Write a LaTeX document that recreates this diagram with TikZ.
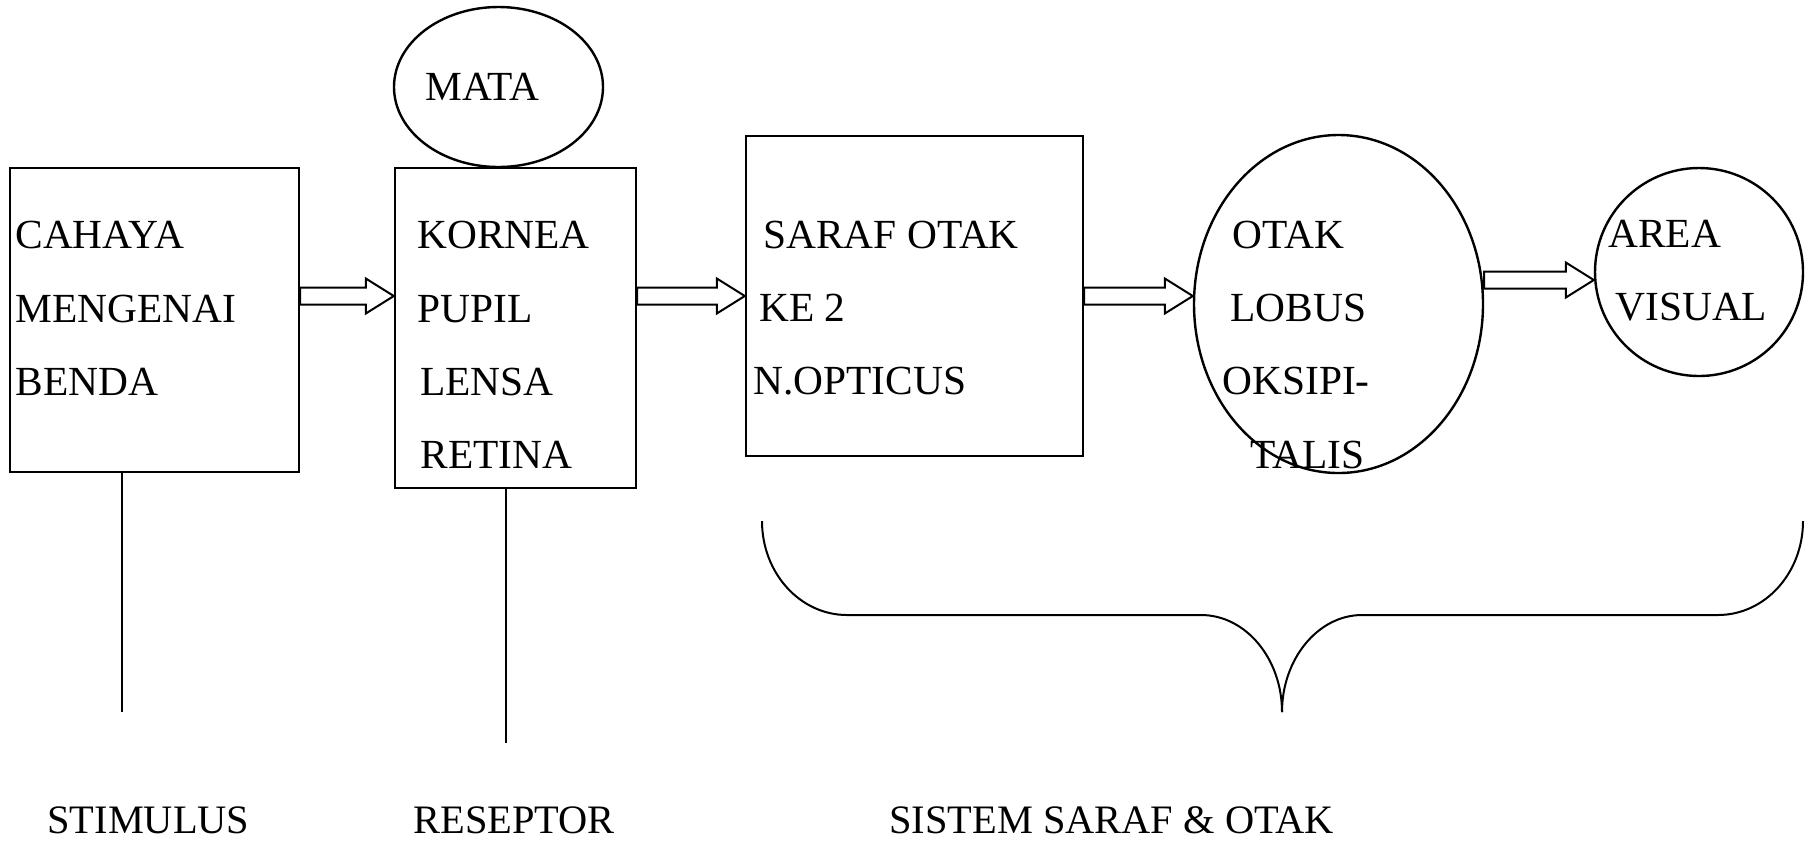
\documentclass[tikz,border=0pt]{standalone}
\usepackage{fontspec}
\setmainfont{Liberation Serif}
\usepackage{tikz}
\usetikzlibrary{calc,shapes.geometric}

\tikzset{
  box/.style={draw, line width=1.2pt, rectangle, inner sep=0pt},
  oval/.style={draw, line width=1.2pt, ellipse, inner sep=0pt},
  lbl/.style={anchor=base west, inner sep=0pt, font=\fontsize{20.7}{25}\selectfont},
  grouplbl/.style={lbl, text depth=0pt, font=\fontsize{20.2}{24}\selectfont},
  hollow/.style={draw, line width=1pt, fill=white, line join=miter},
  bracket/.style={line width=1pt},
}

% hollow block arrow from #1 to #2 at height #3
\newcommand{\fatarrow}[3]{%
  \draw[hollow] let \p1=(#1), \p2=(#2), \p3=(0,#3) in
    (\x1,\y3+4.25pt) -- (\x2-14pt,\y3+4.25pt) -- (\x2-14pt,\y3+8.75pt) -- (\x2,\y3)
    -- (\x2-14pt,\y3-8.75pt) -- (\x2-14pt,\y3-4.25pt) -- (\x1,\y3-4.25pt) -- cycle;
}

\begin{document}
\begin{tikzpicture}[x=0.5pt, y=-0.5pt]
  \useasboundingbox (0,0) rectangle (1814,843);
  % blocks
  \node[box, minimum width=144.5pt, minimum height=152pt] (cahaya) at (154.5,320) {};
  \node[oval, minimum width=104.5pt, minimum height=80pt] (mata) at (498.5,87) {};
  \node[box, minimum width=120.5pt, minimum height=160pt] (reseptor) at (515.5,328) {};
  \node[box, minimum width=168.5pt, minimum height=160pt] (saraf) at (914.5,296) {};
  \node[oval, minimum width=144.5pt, minimum height=169pt] (otak) at (1338.5,304) {};
  \node[oval, minimum width=104pt, minimum height=104pt] (area) at (1699,272) {};
  % texts inside
  \foreach \txt/\x/\y [count=\i] in {CAHAYA/15/248, MENGENAI/15/322, BENDA/15/395}
    \node[lbl] (cahaya-\i) at (\x,\y) {\txt};
  \node[lbl] (mata-1) at (425,100) {MATA};
  \foreach \txt/\x/\y [count=\i] in {KORNEA/417/248, PUPIL/417/322, LENSA/420/395, RETINA/420/468}
    \node[lbl] (reseptor-\i) at (\x,\y) {\txt};
  \foreach \txt/\x/\y [count=\i] in {SARAF OTAK/763/248, KE 2/759/321, N.OPTICUS/753/394}
    \node[lbl] (saraf-\i) at (\x,\y) {\txt};
  \foreach \txt/\x/\y [count=\i] in {OTAK/1232/248, LOBUS/1230/321, OKSIPI-/1222/394, TALIS/1250/468}
    \node[lbl] (otak-\i) at (\x,\y) {\txt};
  \foreach \txt/\x/\y [count=\i] in {AREA/1608/247, VISUAL/1615/320}
    \node[lbl] (area-\i) at (\x,\y) {\txt};
  % arrows
  \fatarrow{cahaya.east}{reseptor.west}{296}
  \fatarrow{reseptor.east}{saraf.west}{296}
  \fatarrow{saraf.east}{otak.west}{296}
  \fatarrow{otak.east}{area.west}{280}
  % leaders to the group names
  \coordinate (stimend) at (121.5,712);
  \coordinate (resend) at (505.6,743);
  \draw[line width=1pt] (cahaya.south -| stimend) -- (stimend);
  \draw[line width=1pt] (reseptor.south -| resend) -- (resend);
  % brace under nerve and brain
  \draw[bracket] (762,521) .. controls (762,573) and (800,615) .. (847,615) -- (1201,615)
    .. controls (1246,615) and (1282,659) .. (1282,712);
  \draw[bracket] (1803,521) .. controls (1803,573) and (1765,615) .. (1718,615) -- (1362,615)
    .. controls (1318,615) and (1282,659) .. (1282,712);
  % group names
  \node[grouplbl] (stimulus) at (47,833) {STIMULUS};
  \node[grouplbl] (reseptorlbl) at (413,833) {RESEPTOR};
  \node[grouplbl] (sistem) at (889,833) {SISTEM SARAF \& OTAK};
\end{tikzpicture}
\end{document}
